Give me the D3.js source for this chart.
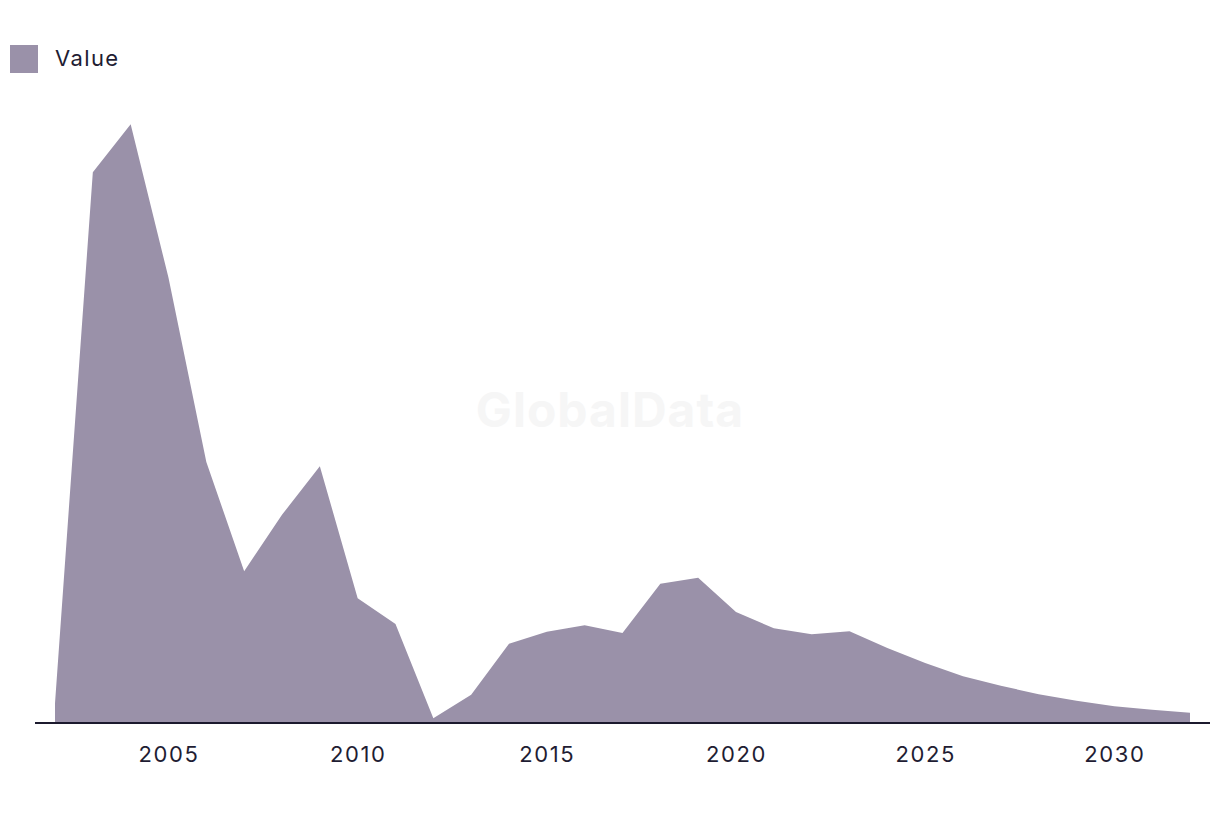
<!DOCTYPE html>
<html>
<head>
<meta charset="utf-8">
<script src="https://cdn.jsdelivr.net/npm/d3@7"></script>
<style>
  html, body { margin: 0; padding: 0; background: #ffffff; }
  svg { display: block; }
</style>
</head>
<body>
<svg id="chart" width="1220" height="816"></svg>
<script>
const years = [2002,2003,2004,2005,2006,2007,2008,2009,2010,2011,2012,2013,2014,2015,2016,2017,2018,2019,2020,2021,2022,2023,2024,2025,2026,2027,2028,2029,2030,2031,2032];
const values = [3.3,91.8,99.8,74.2,43.5,25.3,34.7,42.8,20.8,16.5,0.8,4.7,13.2,15.2,16.3,15.0,23.2,24.2,18.5,15.8,14.8,15.3,12.5,10.0,7.8,6.2,4.8,3.7,2.8,2.2,1.7];
const tickYears = [2005,2010,2015,2020,2025,2030];
const seriesName = "Value";

const data = years.map((y, i) => ({ year: y, value: values[i] }));
const svg = d3.select("#chart");
const font = "Inter, 'Liberation Sans', sans-serif";

const x = d3.scaleLinear().domain([2002, 2032]).range([55, 1190]);
const y = d3.scaleLinear().domain([0, 100]).range([723, 123]);

// watermark
svg.append("text")
  .attr("x", 610).attr("y", 427)
  .attr("text-anchor", "middle")
  .attr("font-family", font)
  .attr("font-weight", 700)
  .attr("font-size", 48)
  .attr("letter-spacing", 1)
  .attr("fill", "#f6f6f6")
  .text("GlobalData");

const area = d3.area()
  .x(d => x(d.year))
  .y0(y(0))
  .y1(d => y(d.value));

svg.append("path")
  .datum(data)
  .attr("d", area)
  .attr("fill", "#9a91a9");

// axis
const axis = d3.axisBottom(x).tickValues(tickYears).tickFormat(d3.format("d")).tickSize(0).tickPadding(23);
const gx = svg.append("g").attr("transform", `translate(0,${y(0)})`).call(axis);
gx.select(".domain").remove();
gx.append("line")
  .attr("x1", 35).attr("x2", 1210)
  .attr("y1", 0).attr("y2", 0)
  .attr("stroke", "#1c1a2e").attr("stroke-width", 2);
gx.selectAll("text")
  .attr("font-family", font)
  .attr("font-size", 22)
  .attr("letter-spacing", 1.6)
  .attr("fill", "#1f1d33");

// legend
const lg = svg.append("g");
lg.append("rect").attr("x", 10).attr("y", 45).attr("width", 28).attr("height", 28).attr("fill", "#9a91a9");
lg.append("text").attr("x", 55).attr("y", 66)
  .attr("font-family", font).attr("font-size", 22).attr("letter-spacing", 1.4).attr("fill", "#1f1d33")
  .text(seriesName);
</script>
</body>
</html>
